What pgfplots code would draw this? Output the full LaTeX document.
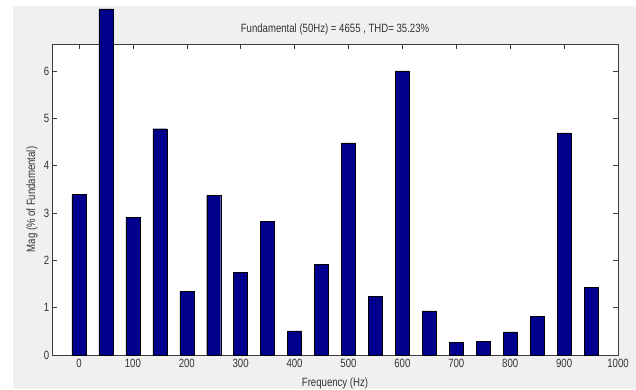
\documentclass[border=0pt]{standalone}
\usepackage{fontspec}
\setmainfont{Liberation Sans}
\usepackage{pgfplots}
\pgfplotsset{compat=1.18}
\definecolor{bg}{RGB}{240,240,240}
\definecolor{barblue}{RGB}{0,0,140}
\definecolor{axgray}{RGB}{60,60,60}
\begin{document}
\begin{tikzpicture}
\path[use as bounding box] (0pt,0pt) rectangle (636pt,389pt);
\fill[bg] (13pt,0pt) rectangle (636pt,383pt);
\begin{axis}[
  at={(52pt,34pt)}, anchor=south west,
  scale only axis, width=566pt, height=311pt,
  xmin=-50, xmax=1000, ymin=0, ymax=6.57,
  xtick={0,100,...,1000}, ytick={0,1,...,6},
  tick align=inside, major tick length=5pt,
  axis background/.style={fill=white},
  axis line style={axgray},
  every tick/.style={axgray},
  clip=false,
  /pgf/number format/assume math mode=true,
  ticklabel style={font=\fontsize{12}{13}\selectfont, text=black!80, xscale=0.8},
  xticklabel style={yshift=-1pt},
  scaled x ticks=false,
  xticklabel={\pgfmathprintnumber[fixed,1000 sep={}]{\tick}},
  xlabel={Frequency (Hz)},
  ylabel={Mag (\% of Fundamental)},
  every axis x label/.style={font=\fontsize{12}{13}\selectfont, text=black!80, at={(axis description cs:0.5,0)}, yshift=-28pt, anchor=center, xscale=0.8},
  every axis y label/.style={font=\fontsize{12}{13}\selectfont, text=black!80, at={(axis description cs:0,0.5)}, xshift=-20pt, rotate=90, xscale=0.8, anchor=center},
  title={Fundamental (50Hz) = 4655 , THD= 35.23\%},
  every axis title/.style={font=\fontsize{12}{13}\selectfont, text=black!80, at={(axis description cs:0.5,1)}, yshift=15pt, anchor=center, xscale=0.8},
]
\addplot[ybar, bar width=26, fill=barblue, draw=black, line width=0.4pt] coordinates {
(0,3.40) (50,7.31) (100,2.91) (150,4.78) (200,1.35) (250,3.38) (300,1.74) (350,2.83)
(400,0.51) (450,1.91) (500,4.48) (550,1.24) (600,6.00) (650,0.93) (700,0.26) (750,0.29)
(800,0.49) (850,0.82) (900,4.69) (950,1.43)
};
\end{axis}
\end{tikzpicture}
\end{document}
